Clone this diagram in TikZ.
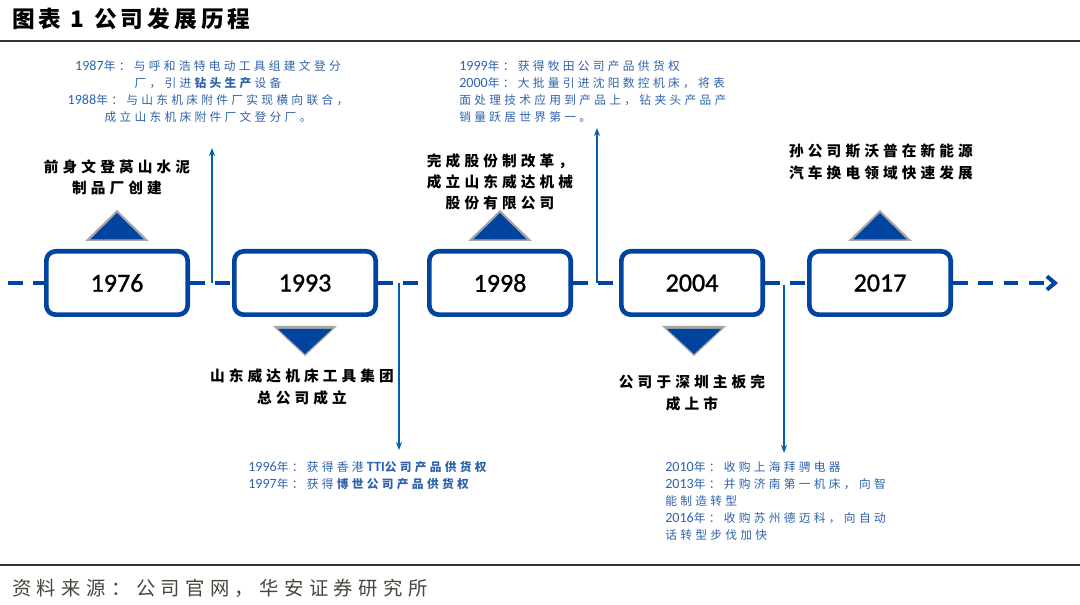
\documentclass[tikz,border=0pt]{standalone}
\usepackage{fontspec}
\setmainfont{Carlito}
\newfontfamily\cjk[LetterSpace=28]{Noto Sans CJK SC}
\newfontfamily\cjkt[LetterSpace=18]{Noto Sans CJK SC}
\newfontfamily\num[Scale=1.2]{Carlito}
\newfontfamily\yearfont[FakeBold=1.2]{Carlito}
\usetikzlibrary{arrows.meta}
\definecolor{mainblue}{RGB}{0,68,160}
\definecolor{textblue}{RGB}{46,98,172}
\definecolor{srcgray}{RGB}{70,70,60}

\tikzset{
  yearbox/.style={draw=mainblue, line width=3.5pt, rounded corners=7pt, fill=white,
    minimum width=106pt, minimum height=47.5pt, font=\yearfont\fontsize{19.5}{20}\selectfont},
  event/.style={align=center, inner sep=0pt, font=\cjk\bfseries\fontsize{11}{15.9}\selectfont},
  note/.style={inner sep=0pt, text=textblue, font=\cjk\fontsize{8.8}{12.75}\selectfont},
  tl/.style={mainblue, line width=3pt, dash pattern=on 11pt off 8pt},
  vl/.style={mainblue!85!cyan, line width=1.5pt, -{Stealth[length=6pt,width=4.5pt]}},
}

\begin{document}
\begin{tikzpicture}[x=0.75pt, y=-0.75pt]
    \useasboundingbox (0,0) rectangle (1080,605);

    \node[anchor=west, inner sep=0pt, font=\cjkt\bfseries\fontsize{17}{17}\selectfont] (title) at (12,19) {图表 1 公司发展历程};
    \draw[line width=1.2pt, black!80] (0,41) -- (1080,41);
    \draw[line width=1.2pt, black!80] (0,565) -- (1080,565);
    \node[anchor=west, inner sep=0pt, text=srcgray, font=\cjk\fontsize{14.5}{14.5}\selectfont] (src) at (12,588) {资料来源：公司官网，华安证券研究所};

    % triangles
    \foreach \x in {117,500,880} {
        \fill[gray!70] (\x-32,241) -- (\x+32,241) -- (\x,210) -- cycle;
        \fill[mainblue] (\x-27,239.5) -- (\x+27,239.5) -- (\x,213) -- cycle;
    }
    \foreach \x in {305,694} {
        \fill[gray!70] (\x-32,326) -- (\x+32,326) -- (\x,356) -- cycle;
        \fill[mainblue] (\x-27,329) -- (\x+27,329) -- (\x,354) -- cycle;
    }

    \node[yearbox] (y76) at (117,283) {1976};
    \node[yearbox] (y93) at (305,283) {1993};
    \node[yearbox] (y98) at (500,283) {1998};
    \node[yearbox] (y04) at (692,283) {2004};
    \node[yearbox] (y17) at (880,283) {2017};
    \coordinate (tlstart) at (8,283);
    \coordinate (tlend) at (1058,283);

    \draw[tl] (tlstart) -- (y76);
    \draw[tl] (y76) -- (y93);
    \draw[tl] (y93) -- (y98);
    \draw[tl] (y98) -- (y04);
    \draw[tl] (y04) -- (y17);
    \draw[tl, -{Straight Barb[length=6pt,width=10pt]}] (y17) -- (tlend);

    \coordinate (v1) at (212,283);
    \coordinate (h1) at (212,148);
    \coordinate (v2) at (399,283);
    \coordinate (h2) at (399,450);
    \coordinate (v3) at (597,283);
    \coordinate (h3) at (597,128);
    \coordinate (v4) at (784,285);
    \coordinate (h4) at (784,453);
    \draw[vl] (v1) -- (h1);
    \draw[vl] (v2) -- (h2);
    \draw[vl] (v3) -- (h3);
    \draw[vl] (v4) -- (h4);

    \node[event] (e76) at (117,177) {前身文登莴山水泥\\制品厂创建};
    \node[event] (e93) at (302,387) {山东威达机床工具集团\\总公司成立};
    \node[event] (e98) at (500,182) {完成股份制改革，\\成立山东威达机械\\股份有限公司};
    \node[event] (e04) at (692,393) {公司于深圳主板完\\成上市};
    \node[event] (e17) at (881,162) {孙公司斯沃普在新能源\\汽车换电领域快速发展};

    \node[note, align=center] (n87) at (208,92) {{\num 1987}年：与呼和浩特电动工具组建文登分\\厂，引进\textbf{钻头生产}设备\\{\num 1988}年：与山东机床附件厂实现横向联合，\\成立山东机床附件厂文登分厂。};
    \node[note, align=left, anchor=west] (n99) at (459,92) {{\num 1999}年：获得牧田公司产品供货权\\{\num 2000}年：大批量引进沈阳数控机床，将表\\面处理技术应用到产品上，钻夹头产品产\\销量跃居世界第一。};
    \node[note, align=left, anchor=west] (n96) at (248,476) {{\num 1996}年：获得香港\textbf{{\num TTI}公司产品供货权}\\{\num 1997}年：获得\textbf{博世公司产品供货权}};
    \node[note, align=left, anchor=west] (n10) at (665,501) {{\num 2010}年：收购上海拜骋电器\\{\num 2013}年：并购济南第一机床，向智\\能制造转型\\{\num 2016}年：收购苏州德迈科，向自动\\话转型步伐加快};

\end{tikzpicture}
\end{document}
